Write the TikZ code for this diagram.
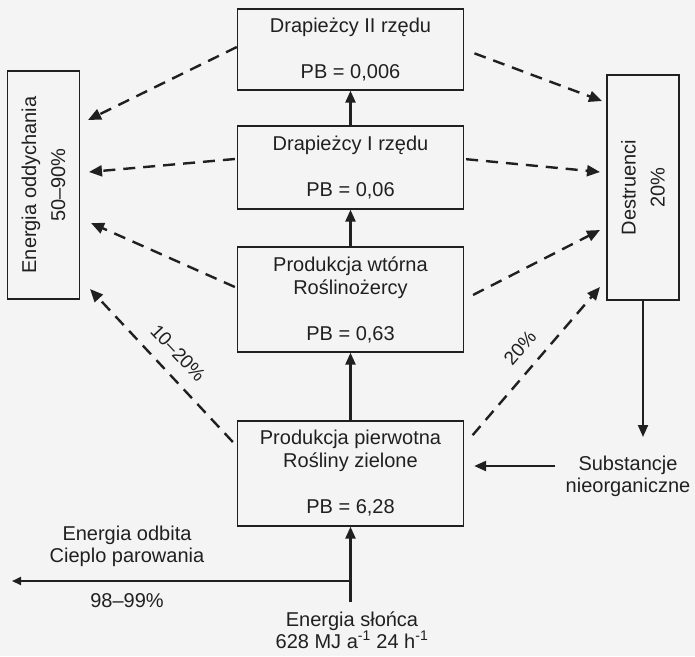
\documentclass[tikz,border=0pt]{standalone}
\usepackage{fontspec}
\setmainfont{Liberation Sans}
\usetikzlibrary{arrows.meta,calc}
\definecolor{bg}{RGB}{244,244,244}
\definecolor{ink}{RGB}{32,32,32}
\begin{document}
\begin{tikzpicture}[x=1pt,y=-1pt,
  box/.style={draw=ink, line width=1.3pt, align=center, text=ink, inner sep=0pt,
    font=\fontsize{20}{23}\selectfont},
  vbox/.style={box, rotate=90, font=\fontsize{20}{29}\selectfont},
  lbl/.style={text=ink, align=center, inner sep=0pt, font=\fontsize{20}{22}\selectfont},
  slbl/.style={lbl, font=\fontsize{19}{22}\selectfont},
  solidarrow/.style={draw=ink, line width=2.4pt, -{Triangle[length=12pt,width=10pt]}},
  thinarrow/.style={draw=ink, line width=2pt, -{Triangle[length=9pt,width=8pt]}},
  dasharrow/.style={draw=ink, line width=2.4pt, dash pattern=on 12pt off 8pt,
    -{Triangle[length=13pt,width=11pt]}}
]
\fill[bg] (0,0) rectangle (695,656);
\useasboundingbox (0,0) rectangle (695,656);

% main boxes
\node[box, minimum width=226pt, minimum height=81pt] (d2) at (350.5,49.5)
  {Drapieżcy II rzędu\\[23pt]PB = 0,006};
\node[box, minimum width=226pt, minimum height=83pt] (d1) at (350.5,167.5)
  {Drapieżcy I rzędu\\[23pt]PB = 0,06};
\node[box, minimum width=226pt, minimum height=105pt] (pw) at (350.5,299.5)
  {Produkcja wtórna\\Roślinożercy\\[23pt]PB = 0,63};
\node[box, minimum width=226pt, minimum height=105pt] (pp) at (350.5,473.5)
  {Produkcja pierwotna\\Rośliny zielone\\[23pt]PB = 6,28};

% side boxes (rotated: .south is the right side, .north the left, .west the bottom)
\node[vbox, minimum width=228pt, minimum height=72pt] (eo) at (43.5,185)
  {Energia oddychania\\50–90\%};
\node[vbox, minimum width=225pt, minimum height=72pt] (de) at (643,187.5)
  {Destruenci\\20\%};

% free labels
\node[lbl] (sub) at (628,476) {Substancje\\nieorganiczne};
\node[lbl] (sun) at (352,630) {Energia słońca\\628 MJ a\textsuperscript{-1} 24 h\textsuperscript{-1}};
\node[lbl] (odb) at (127,546) {Energia odbita\\Cieplo parowania};
\node[lbl] (pct) at (127,601) {98–99\%};
\node[slbl, rotate=-46.7] (l1020) at (178,353) {10–20\%};
\node[slbl, rotate=49] (l20) at (520,348) {20\%};

% free connector ends
\coordinate (eoA) at (88,120);
\coordinate (eoB) at (89,172);
\coordinate (eoC) at (91,223);
\coordinate (eoD) at (90,289);
\coordinate (deA) at (602,101);
\coordinate (deB) at (600,172);
\coordinate (deC) at (600,230);
\coordinate (deD) at (600,287);
\coordinate (subA) at (555,466);
\coordinate (deEnd) at (643,437);
\coordinate (sunTop) at (350.5,602);
\coordinate (branch) at (350.5,581);
\coordinate (refl) at (12,581);

% vertical flows
\draw[solidarrow] (d1.north) -- (d2.south);
\draw[solidarrow] (pw.north) -- (d1.south);
\draw[solidarrow] (pp.north) -- (pw.south);
\draw[solidarrow] (sunTop) -- (pp.south);
\draw[thinarrow] (branch) -- (refl);

% respiration (left)
\draw[dasharrow] ([yshift=2.5pt]d2.west) -- (eoA);
\draw[dasharrow] ([yshift=8.5pt,xshift=-2pt]d1.west) -- (eoB);
\draw[dasharrow] ([yshift=12.5pt,xshift=-2pt]pw.west) -- (eoC);
\draw[dasharrow] ([yshift=31.5pt,xshift=-4pt]pp.west) -- (eoD);

% destruents (right)
\draw[dasharrow, shorten <=11pt] (d2.east) -- (deA);
\draw[dasharrow, shorten <=2pt] ([yshift=8.5pt]d1.east) -- (deB);
\draw[dasharrow, shorten <=10pt] (pw.east) -- (deC);
\draw[dasharrow, shorten <=13pt] ([yshift=28.5pt]pp.east) -- (deD);

% inorganic cycle
\draw[solidarrow, line width=2pt] (de.west) -- (deEnd);
\draw[solidarrow, shorten >=10pt] (subA) -- (pp.east |- subA);
\end{tikzpicture}
\end{document}
